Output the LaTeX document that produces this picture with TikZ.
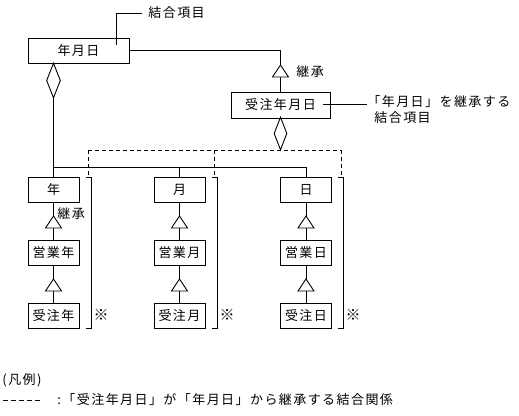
\documentclass[tikz,border=0pt]{standalone}
\usepackage{fontspec}
\setmainfont[LetterSpace=11]{Noto Sans CJK JP}
\usetikzlibrary{shapes.geometric}
\tikzset{
  box/.style={draw, rectangle, inner sep=0pt, minimum width=51, minimum height=25},
  dia/.style={draw, diamond, fill=white, inner sep=0pt},
  dashline/.style={dash pattern=on 4pt off 3pt},
  lbl/.style={inner sep=0pt},
  kome/.style={inner sep=0pt, font=\fontsize{15}{15}\selectfont},
  inh/.pic={\draw[fill=white] (0,0) -- (-8,12) -- (8,12) -- cycle;},
}
\begin{document}
\begin{tikzpicture}[x=1pt,y=-1pt, line width=0.9pt,
  every node/.append style={font=\fontsize{13}{15}\selectfont}]
\useasboundingbox (0,0) rectangle (519,415);
% main boxes
\node[box, minimum width=101] (ymd) at (78.5,50.5) {年月日};
\node[box, minimum width=99, minimum height=26] (jymd) at (280.5,105) {受注年月日};
% columns
\node[box] (nen) at (53.5,189.5) {年};
\node[box] (eignen) at (53.5,252.5) {営業年};
\node[box] (junen) at (53.5,315.5) {受注年};
\node[box] (tsuki) at (179.5,189.5) {月};
\node[box] (eigtsuki) at (179.5,252.5) {営業月};
\node[box] (jutsuki) at (179.5,315.5) {受注月};
\node[box] (hi) at (306,189.5) {日};
\node[box] (eighi) at (306,252.5) {営業日};
\node[box] (juhi) at (306,315.5) {受注日};
% diamonds
\node[dia, minimum width=14, minimum height=35] (d1) at (53.5,80.5) {};
\node[dia, minimum width=13, minimum height=33] (d2) at (280.5,133.5) {};
% ymd -> jymd inheritance
\draw (ymd.east) -| (jymd.north);
\pic at (280.5,65) {inh};
\node[lbl, anchor=west] (inhA) at (296,72) {継承};
% composition of ymd
\coordinate (bus) at (0,167);
\draw (d1.south) -- (nen.north);
\draw (nen.north |- bus) -- (hi.north |- bus);
\draw (tsuki.north |- bus) -- (tsuki.north);
\draw (hi.north |- bus) -- (hi.north);
% inheritance chains
\draw (nen.south) -- (eignen.north) (eignen.south) -- (junen.north);
\draw (tsuki.south) -- (eigtsuki.north) (eigtsuki.south) -- (jutsuki.north);
\draw (hi.south) -- (eighi.north) (eighi.south) -- (juhi.north);
\foreach \x in {53.5,179.5,306}{
  \pic at (\x,216) {inh};
  \pic at (\x,279) {inh};
}
\node[lbl, anchor=west] (inhB) at (57,214) {継承};
% dashed composition of jymd
\coordinate (c1) at (88,150);
\coordinate (c2) at (214,150);
\coordinate (c3) at (341,150);
\draw[dashline] (c1) -- (c3);
\draw[dashline] (c1) -- (88,177);
\draw[dashline] (c2) -- (214,177);
\draw[dashline] (c3) -- (341,177);
% brackets
\draw (86,177) -- (91,177) -- (91,328) -- (86,328);
\draw (212,177) -- (217,177) -- (217,328) -- (212,328);
\draw (338,177) -- (343,177) -- (343,328) -- (338,328);
\node[kome] (k1) at (101,315) {※};
\node[kome] (k2) at (227,315) {※};
\node[kome] (k3) at (353,315) {※};
% annotations
\node[lbl, anchor=west] (note1) at (148,13) {結合項目};
\coordinate (l1) at (116,45);
\draw (l1) |- (142,13);
\node[lbl, anchor=west] (note2a) at (367,102) {「年月日」を継承する};
\node[lbl, anchor=west] (note2b) at (374,118) {結合項目};
\coordinate (l2) at (323,104);
\draw (l2) -- (367,104);
% legend
\node[lbl, anchor=west] (leg) at (2,380) {(凡例)};
\coordinate (lg1) at (3,400);
\coordinate (lg2) at (39.5,400);
\draw[dash pattern=on 4.5pt off 3.5pt, line width=0.8pt] (lg1) -- (lg2);
\node[lbl, anchor=west] (legtxt) at (57,400) {:「受注年月日」が「年月日」から継承する結合関係};
\end{tikzpicture}
\end{document}
